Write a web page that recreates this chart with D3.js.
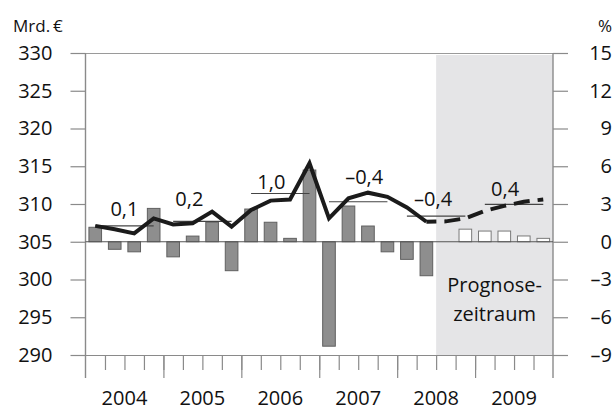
<!DOCTYPE html>
<html><head><meta charset="utf-8">
<script src="https://cdn.jsdelivr.net/npm/d3@7"></script>
<style>
body{margin:0;background:#fff;}
text{font-family:"Open Sans",sans-serif;fill:#111;}
</style></head>
<body><svg id="c" width="615" height="411"></svg>
<script>
// ---- data ----
const quarters = ["2004Q1","2004Q2","2004Q3","2004Q4","2005Q1","2005Q2","2005Q3","2005Q4",
  "2006Q1","2006Q2","2006Q3","2006Q4","2007Q1","2007Q2","2007Q3","2007Q4",
  "2008Q1","2008Q2","2008Q3","2008Q4","2009Q1","2009Q2","2009Q3","2009Q4"];
const years = ["2004","2005","2006","2007","2008","2009"];
// quarterly change in % (right axis)
const changePct = [1.15,-0.6,-0.8,2.65,-1.2,0.45,1.55,-2.3,
  2.6,1.55,0.27,5.7,-8.3,2.84,1.25,-0.8,
  -1.4,-2.7,0.0,1.0,0.85,0.85,0.46,0.27];
// level in Mrd. € (left axis)
const levelBn = [307.1,306.65,306.1,308.1,307.3,307.45,309.0,307.0,
  309.2,310.45,310.6,315.4,308.1,310.75,311.5,310.95,
  309.55,307.65,307.7,308.1,309.1,309.75,310.3,310.6];
const forecastStart = "2008Q3";
// annual averages (Mrd. €) and annual growth labels
const yearAvg = [307.1,307.7,311.4,310.3,308.4,309.95];
const yearGrowth = ["0,1","0,2","1,0","\u20130,4","\u20130,4","0,4"];
const leftTicks = [290,295,300,305,310,315,320,325,330];
const rightTicks = [-9,-6,-3,0,3,6,9,12,15];

// ---- layout ----
const X0 = 85.5, X1 = 553, YT = 53, YB = 355;
const svg = d3.select("#c");
const x = d3.scaleBand().domain(quarters).range([X0, X1]).paddingInner(0.3).paddingOuter(0.15);
const xb = d3.scaleLinear().domain([0, quarters.length]).range([X0, X1]);
const yL = d3.scaleLinear().domain([290, 330]).range([YB, YT]);
const yR = d3.scaleLinear().domain([-9, 15]).range([YB, YT]);
const cx = q => x(q) + x.bandwidth() / 2;
const fi = quarters.indexOf(forecastStart);
const fmt = d => d < 0 ? "\u2013" + Math.abs(d) : String(d);

// forecast shading
svg.append("rect").attr("x", xb(fi)).attr("y", YT + 2).attr("width", X1 - xb(fi)).attr("height", YB - YT - 2)
  .attr("fill", "#e5e5e7");

// frame lines
svg.append("line").attr("x1", X0).attr("x2", X1).attr("y1", YT + 0.5).attr("y2", YT + 0.5).attr("stroke", "#9a9a9a").attr("stroke-width", 1.2);
svg.append("line").attr("x1", X0).attr("x2", X1).attr("y1", YB + 0.5).attr("y2", YB + 0.5).attr("stroke", "#8a8a8a").attr("stroke-width", 1.2);

// left axis
const gL = svg.append("g").attr("transform", `translate(${X0},0)`)
  .call(d3.axisLeft(yL).tickValues(leftTicks).tickSize(15).tickSizeOuter(0).tickPadding(18).tickFormat(d => d));
gL.select(".domain").remove();
gL.selectAll("line").attr("stroke", "#8a8a8a").attr("stroke-width", 1.2);
gL.selectAll("text").attr("font-size", 20).attr("font-family", "Open Sans").attr("fill", "#111");
svg.append("line").attr("x1", X0).attr("x2", X0).attr("y1", YT).attr("y2", YB + 23).attr("stroke", "#8a8a8a").attr("stroke-width", 1.4);

// right axis
const gR = svg.append("g").attr("transform", `translate(${X1},0)`)
  .call(d3.axisRight(yR).tickValues(rightTicks).tickSize(15).tickSizeOuter(0).tickPadding(0).tickFormat(fmt));
gR.select(".domain").remove();
gR.selectAll("line").attr("stroke", "#8a8a8a").attr("stroke-width", 1.2);
gR.selectAll("text").attr("font-size", 20).attr("font-family", "Open Sans").attr("fill", "#111")
  .attr("text-anchor", "end").attr("x", 59);
svg.append("line").attr("x1", X1).attr("x2", X1).attr("y1", YT).attr("y2", YB + 23).attr("stroke", "#8a8a8a").attr("stroke-width", 1.4);

// bottom ticks (quarters minor, years major)
const gB1 = svg.append("g").attr("transform", `translate(0,${YB})`)
  .call(d3.axisBottom(xb).tickValues(d3.range(1, quarters.length)).tickSize(15).tickSizeOuter(0).tickFormat(""));
gB1.select(".domain").remove();
const gB2 = svg.append("g").attr("transform", `translate(0,${YB})`)
  .call(d3.axisBottom(xb).tickValues(d3.range(4, quarters.length, 4)).tickSize(23).tickSizeOuter(0).tickFormat(""));
gB2.select(".domain").remove();
svg.selectAll(".tick line").attr("stroke", "#8a8a8a").attr("stroke-width", 1.2);

// year labels
svg.append("g").selectAll("text").data(years).join("text")
  .attr("x", (d, i) => (xb(i * 4) + xb(i * 4 + 4)) / 2).attr("y", 405)
  .attr("text-anchor", "middle").attr("font-size", 20).text(d => d);

// units
svg.append("text").attr("x", 13).attr("y", 32).attr("font-size", 17).text("Mrd.\u2009\u20AC");
svg.append("text").attr("x", 612).attr("y", 32).attr("text-anchor", "end").attr("font-size", 17).text("%");

// bars
svg.append("g").selectAll("rect").data(quarters).join("rect")
  .attr("x", q => x(q) + 0.5)
  .attr("y", (q, i) => yR(Math.max(0, changePct[i])))
  .attr("width", x.bandwidth() - 1)
  .attr("height", (q, i) => Math.abs(yR(changePct[i]) - yR(0)))
  .attr("fill", (q, i) => i >= fi ? "#ffffff" : "#8e8e8e")
  .attr("stroke", (q, i) => i >= fi ? "#7a7a7a" : "#606060")
  .attr("stroke-width", 1);

// zero line
svg.append("line").attr("x1", X0).attr("x2", X1).attr("y1", yR(0)).attr("y2", yR(0))
  .attr("stroke", "#555").attr("stroke-width", 1.2);

// annual average lines
const avgG = svg.append("g");
years.forEach((y, i) => {
  avgG.append("line").attr("x1", cx(quarters[i * 4])).attr("x2", cx(quarters[i * 4 + 3]))
    .attr("y1", yL(yearAvg[i])).attr("y2", yL(yearAvg[i])).attr("stroke", "#444").attr("stroke-width", 1.1);
});

// level line
const line = d3.line().x(d => cx(d.q)).y(d => yL(d.v));
const pts = quarters.map((q, i) => ({ q, v: levelBn[i] }));
svg.append("path").datum(pts.slice(0, fi)).attr("d", line)
  .attr("fill", "none").attr("stroke", "#1b1b1b").attr("stroke-width", 4).attr("stroke-linejoin", "miter");
svg.append("path").datum(pts.slice(fi - 1)).attr("d", line)
  .attr("fill", "none").attr("stroke", "#1b1b1b").attr("stroke-width", 4)
  .attr("stroke-dasharray", "16,8").attr("stroke-dashoffset", 6);

// growth labels
const lblDx = [0, -13, -9, 6, -3, -9];
const lblDy = [-10, -15, -4, -18, -10, -8];
svg.append("g").selectAll("text").data(yearGrowth).join("text")
  .attr("x", (d, i) => (xb(i * 4) + xb(i * 4 + 4)) / 2 + lblDx[i])
  .attr("y", (d, i) => yL(yearAvg[i]) + lblDy[i])
  .attr("text-anchor", "middle").attr("font-size", 20).text(d => d);

// forecast label
const fcx = (xb(fi) + X1) / 2;
svg.append("text").attr("x", fcx).attr("y", 292).attr("text-anchor", "middle").attr("font-size", 20).text("Prognose-");
svg.append("text").attr("x", fcx).attr("y", 321).attr("text-anchor", "middle").attr("font-size", 20).text("zeitraum");
</script></body></html>
